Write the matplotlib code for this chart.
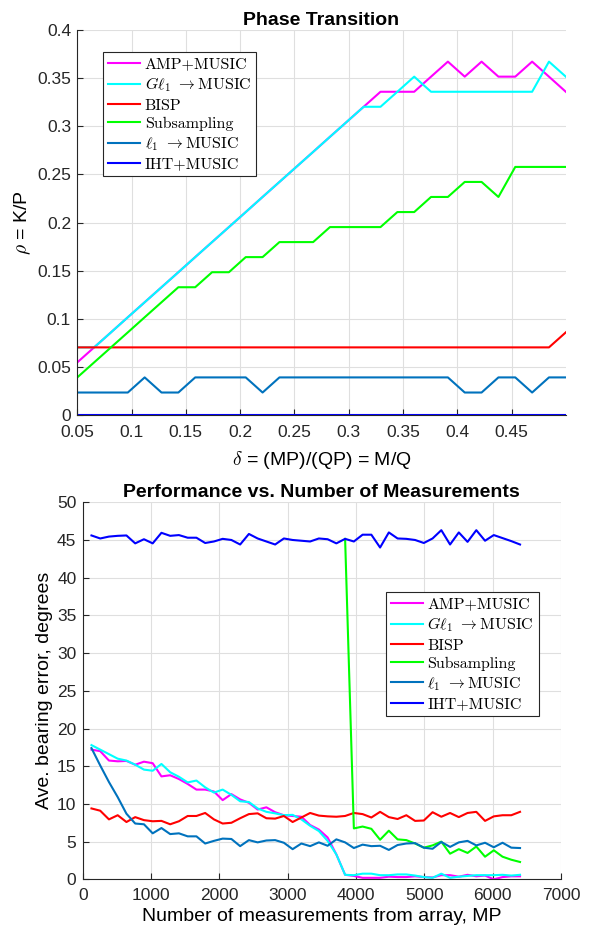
import numpy as np
import matplotlib
matplotlib.use("Agg")
import matplotlib.pyplot as plt

plt.rcParams['font.family'] = ['Liberation Sans', 'DejaVu Sans']
plt.rcParams['mathtext.fontset'] = 'cm'

# ---- Phase transition data (rho = K/P, delta = M/Q) ----
delta = np.linspace(0.05, 0.5, 30)
rho_amp = [0.0547, 0.0703, 0.0859, 0.1016, 0.1172, 0.1328, 0.1484, 0.1641, 0.1797, 0.1953,
           0.2109, 0.2266, 0.2422, 0.2578, 0.2734, 0.2891, 0.3047, 0.3203, 0.3359, 0.3359,
           0.3359, 0.3516, 0.3672, 0.3516, 0.3672, 0.3516, 0.3516, 0.3672, 0.3516, 0.3359]
rho_gl1 = [0.0703, 0.0703, 0.0859, 0.1016, 0.1172, 0.1328, 0.1484, 0.1641, 0.1797, 0.1953,
           0.2109, 0.2266, 0.2422, 0.2578, 0.2734, 0.2891, 0.3047, 0.3203, 0.3203, 0.3359,
           0.3516, 0.3359, 0.3359, 0.3359, 0.3359, 0.3359, 0.3359, 0.3359, 0.3672, 0.3516]
rho_bisp = [0.0703] * 29 + [0.0859]
rho_sub = [0.0391, 0.0547, 0.0703, 0.0859, 0.1016, 0.1172, 0.1328, 0.1328, 0.1484, 0.1484,
           0.1641, 0.1641, 0.1797, 0.1797, 0.1797, 0.1953, 0.1953, 0.1953, 0.1953, 0.2109,
           0.2109, 0.2266, 0.2266, 0.2422, 0.2422, 0.2266, 0.2578, 0.2578, 0.2578, 0.2578]
rho_l1 = [0.0234, 0.0234, 0.0234, 0.0234, 0.0391, 0.0234, 0.0234, 0.0391, 0.0391, 0.0391,
          0.0391, 0.0234, 0.0391, 0.0391, 0.0391, 0.0391, 0.0391, 0.0391, 0.0391, 0.0391,
          0.0391, 0.0391, 0.0391, 0.0234, 0.0234, 0.0391, 0.0391, 0.0234, 0.0391, 0.0391]
rho_iht = [0.0] * 30

# ---- Bearing error vs number of measurements ----
mp = np.arange(1, 51) * 128
err_amp = [17.2, 17.0, 15.75, 15.65, 15.7, 15.2, 15.6, 15.4, 13.65, 13.8,
           13.3, 12.65, 11.9, 11.9, 11.65, 10.5, 11.3, 10.6, 10.15, 9.25,
           9.55, 8.9, 8.5, 8.4, 8.3, 7.2, 6.6, 5.55, 3.3, 0.6,
           0.45, 0.2, 0.2, 0.2, 0.35, 0.3, 0.3, 0.4, 0.3, 0.25,
           0.55, 0.55, 0.35, 0.6, 0.4, 0.5, 0.0, 0.3, 0.4, 0.4]
err_gl1 = [17.8, 17.2, 16.6, 16.0, 15.75, 15.2, 14.55, 14.4, 15.3, 14.2,
           13.6, 12.85, 13.1, 12.2, 11.5, 11.9, 11.2, 10.35, 10.25, 9.4,
           8.95, 8.75, 8.5, 8.55, 7.95, 7.1, 6.4, 5.1, 3.3, 0.6,
           0.55, 0.75, 0.75, 0.55, 0.55, 0.65, 0.65, 0.5, 0.3, 0.2,
           0.75, 0.2, 0.35, 0.45, 0.55, 0.55, 0.55, 0.6, 0.5, 0.6]
err_bisp = [9.4, 9.1, 7.95, 8.5, 7.6, 8.25, 7.85, 7.7, 7.75, 7.3,
            7.7, 8.4, 8.4, 8.8, 7.95, 7.4, 7.5, 8.1, 8.65, 8.75,
            8.1, 8.05, 8.4, 7.6, 8.2, 8.8, 8.45, 8.35, 8.3, 8.4,
            8.8, 8.65, 8.2, 8.95, 8.25, 8.0, 8.5, 7.75, 7.8, 8.9,
            8.3, 8.8, 8.25, 8.8, 8.95, 7.75, 8.35, 8.5, 8.5, 8.95]
err_sub = [np.nan] * 29 + [45.15,
           6.75, 7.0, 6.7, 5.25, 6.45, 5.3, 5.2, 4.75, 4.2, 4.5,
           5.0, 3.4, 4.0, 3.5, 4.35, 3.0, 3.85, 3.0, 2.6, 2.3]
err_l1 = [17.4, 15.1, 12.9, 10.9, 8.7, 7.4, 7.3, 6.1, 6.8, 6.0,
          6.1, 5.7, 5.7, 4.75, 5.1, 5.4, 5.35, 4.4, 5.2, 4.9,
          5.15, 5.2, 4.85, 4.0, 4.75, 4.4, 4.9, 4.45, 5.3, 4.9,
          4.15, 4.6, 4.4, 4.45, 3.9, 4.55, 4.75, 4.8, 4.2, 4.05,
          4.95, 4.3, 4.9, 5.1, 4.5, 4.85, 4.25, 4.85, 4.2, 4.15]
err_iht = [45.6, 45.2, 45.45, 45.55, 45.6, 44.55, 45.1, 44.55, 45.95, 45.55,
           45.65, 45.3, 45.3, 44.6, 44.8, 45.15, 45.0, 44.4, 45.8, 45.2,
           44.8, 44.4, 45.2, 45.0, 44.9, 44.8, 45.2, 45.1, 44.55, 45.15,
           44.8, 45.7, 45.7, 44.0, 46.0, 45.2, 45.15, 45.0, 44.6, 45.2,
           46.3, 44.4, 46.0, 44.75, 46.3, 44.9, 45.65, 45.25, 44.85, 44.4]

labels = ['AMP+MUSIC', r'$G\ell_1$ $\rightarrow$MUSIC', 'BISP', 'Subsampling',
          r'$\ell_1$ $\rightarrow$MUSIC', 'IHT+MUSIC']
colors = ['#FF00FF', '#00FFFF', '#FF0000', '#00FF00', '#0072BD', '#0000FF']


def style_axes(ax, xpad):
    ax.spines['top'].set_visible(False)
    ax.spines['right'].set_visible(False)
    for s in ['left', 'bottom']:
        ax.spines[s].set_color('#262626')
        ax.spines[s].set_linewidth(0.8)
    ax.tick_params(direction='in', length=4, width=0.8, colors='#262626', labelsize=12.5)
    ax.tick_params(axis='x', pad=xpad)
    ax.tick_params(axis='y', pad=4.5)
    ax.grid(True, color='#dfdfdf', linewidth=0.8)
    ax.set_axisbelow(True)


def add_legend(ax, anchor):
    leg = ax.legend(loc='upper left', bbox_to_anchor=anchor, borderaxespad=0,
                    prop={'family': 'cmr10', 'size': 11.5}, fancybox=False, framealpha=1,
                    edgecolor='#262626', handlelength=2.0, handletextpad=0.3,
                    labelspacing=0.26, borderpad=0.3)
    leg.get_frame().set_linewidth(0.8)


fig = plt.figure(figsize=(5.9, 9.31), dpi=100)

# Top panel
ax1 = fig.add_axes([0.131, 0.5542, 0.828, 0.4135])
for y, c, lab in zip([rho_amp, rho_gl1, rho_bisp, rho_sub, rho_l1, rho_iht], colors, labels):
    ax1.plot(delta, y, color=c, linewidth=1.5, label=lab)
ax1.set_xlim(0.05, 0.5)
ax1.set_ylim(0, 0.4)
ax1.set_xticks(np.arange(0.05, 0.46, 0.05))
ax1.set_xticklabels(['0.05', '0.1', '0.15', '0.2', '0.25', '0.3', '0.35', '0.4', '0.45'])
ax1.set_yticks(np.arange(0, 0.41, 0.05))
ax1.set_yticklabels(['0', '0.05', '0.1', '0.15', '0.2', '0.25', '0.3', '0.35', '0.4'])
style_axes(ax1, 7.5)
ax1.set_title('Phase Transition', fontsize=14, fontweight='bold', pad=4)
ax1.set_xlabel(r'$\delta$ = (MP)/(QP) = M/Q', fontsize=14, labelpad=6)
ax1.set_ylabel(r'$\rho$ = K/P', fontsize=14, labelpad=3)
add_legend(ax1, (0.053, 0.942))

# Bottom panel
ax2 = fig.add_axes([0.1402, 0.0555, 0.8107, 0.405])
for y, c, lab in zip([err_amp, err_gl1, err_bisp, err_sub, err_l1, err_iht], colors, labels):
    ax2.plot(mp, y, color=c, linewidth=1.5, label=lab)
ax2.set_xlim(0, 7000)
ax2.set_ylim(0, 50)
ax2.set_xticks(np.arange(0, 7001, 1000))
ax2.set_yticks(np.arange(0, 51, 5))
style_axes(ax2, 6.5)
ax2.set_title('Performance vs. Number of Measurements', fontsize=14, fontweight='bold', pad=4)
ax2.set_xlabel('Number of measurements from array, MP', fontsize=14, labelpad=3)
ax2.set_ylabel('Ave. bearing error, degrees', fontsize=14, labelpad=3)
add_legend(ax2, (0.634, 0.761))

fig.savefig('out.png', dpi=100)
